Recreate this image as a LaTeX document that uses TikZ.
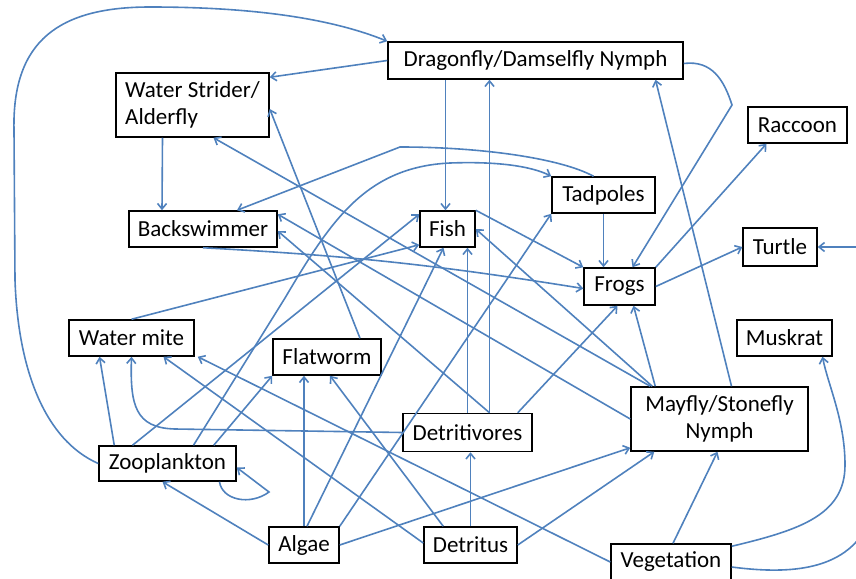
\documentclass[tikz,border=0pt]{standalone}
\usepackage{fontspec}
\setmainfont{Carlito}
\usetikzlibrary{arrows.meta}
\definecolor{linkblue}{RGB}{79,129,189}

\begin{document}
\begin{tikzpicture}[->,>={Straight Barb[length=5.5pt,width=9pt]},
    x=1pt,y=-1pt,
    box/.style={draw,line width=1.5pt,fill=white,inner sep=0pt,
      font=\fontsize{23}{27}\selectfont},
    link/.style={draw=linkblue,line width=1.6pt},
    every edge/.style={link}]

  \useasboundingbox (0,0) rectangle (856,578);

  \node[box,minimum width=295pt,minimum height=37pt] (drag) at (535.5,60.5) {Dragonfly/Damselfly Nymph};
  \node[box,minimum width=153pt,minimum height=64pt,align=left] (strider) at (192.5,105) {Water Strider/\\Alderfly};
  \node[box,minimum width=99pt,minimum height=36pt] (raccoon) at (797.5,125) {Raccoon};
  \node[box,minimum width=148pt,minimum height=36pt] (back) at (203,229) {Backswimmer};
  \node[box,minimum width=103pt,minimum height=36pt] (tad) at (603.5,195) {Tadpoles};
  \node[box,minimum width=55pt,minimum height=36pt] (fish) at (447.5,229) {Fish};
  \node[box,minimum width=74pt,minimum height=38pt] (turtle) at (780,247) {Turtle};
  \node[box,minimum width=71pt,minimum height=37pt] (frogs) at (619.5,286.5) {Frogs};
  \node[box,minimum width=125pt,minimum height=36pt] (mite) at (131.5,338) {Water mite};
  \node[box,minimum width=108pt,minimum height=36pt] (flat) at (327,357) {Flatworm};
  \node[box,minimum width=95pt,minimum height=36pt] (musk) at (784.5,338) {Muskrat};
  \node[box,minimum width=177pt,minimum height=64pt,align=center] (may) at (719.5,419) {Mayfly/Stonefly\\Nymph};
  \node[box,minimum width=129pt,minimum height=38pt] (detv) at (467.5,432.5) {Detritivores};
  \node[box,minimum width=137pt,minimum height=35pt] (zoo) at (167.5,463.5) {Zooplankton};
  \node[box,minimum width=70pt,minimum height=36pt] (algae) at (304,545) {Algae};
  \node[box,minimum width=93pt,minimum height=36pt] (detritus) at (470.5,545) {Detritus};
  \node[box,minimum width=120pt,minimum height=36pt] (veg) at (671,562) {Vegetation};

  % straight links
  \path
  ([xshift=-90pt]drag.south) edge ([xshift=-2pt]fish.north)
  (drag.west) edge ([yshift=-5pt]strider.north east)
  ([xshift=22pt]detv.north) edge ([xshift=-46pt]drag.south)
  ([xshift=12pt]may.north) edge ([xshift=120pt]drag.south)
  (frogs.north east) edge ([xshift=-31pt]raccoon.south)
  (frogs.east) edge (turtle.west)
  ([xshift=2pt]veg.north) edge ([xshift=-2pt]may.south)
  (detritus.east) edge ([xshift=24pt]may.south west)
  (algae.east) edge ([yshift=4pt]may.south west)
  (detritus.north) edge (detritus.north |- detv.south)
  ([xshift=25pt]may.north west) edge ([xshift=14pt]frogs.south)
  ([xshift=-15pt]detv.north east) edge ([xshift=-2pt]frogs.south)
  (tad.south) edge (tad.south |- frogs.north)
  (fish.north east) edge (frogs.north west)
  ([xshift=20pt]may.north west) edge ([xshift=21pt]strider.south)
  ([xshift=22pt]may.north west) edge (fish.east)
  (may.west) edge ([yshift=-4pt]back.north east)
  ([xshift=22pt]detv.north) edge ([yshift=-2pt]back.east)
  ([xshift=33pt]flat.north) edge ([yshift=-4pt]strider.east)
  ([xshift=-30pt]strider.south) edge ([xshift=-41pt]back.north)
  ([xshift=-35pt]zoo.north) edge ([yshift=-4pt]fish.north west)
  (mite.north) edge ([yshift=3pt]fish.south west)
  ([xshift=16pt]zoo.north west) edge ([xshift=-32pt]mite.south)
  ([yshift=2pt]detritus.west) edge ([xshift=32pt]mite.south)
  (veg.west) edge ([xshift=3pt]mite.south east)
  ([xshift=-23pt]zoo.north east) edge (flat.south west)
  (algae.north) edge (algae.north |- flat.south)
  ([xshift=3pt]algae.north) edge ([xshift=-4pt]fish.south)
  ([xshift=20pt]detritus.north west) edge ([xshift=3pt]flat.south)
  (algae.west) edge ([xshift=-5pt]zoo.south)
  (algae.north east) edge (tad.south west)
  (detv.north) edge (detv.north |- fish.south)
  (back.south) edge[bend left=3] ([yshift=-2pt]frogs.west);

  % curved links
  \draw[link] (zoo.west) .. controls (45,440) and (18,370) .. (15,280)
    -- (14,130) .. controls (12,40) and (60,7) .. (150,7)
    .. controls (260,7) and (335,20) .. (drag.north west);
  \draw[link] ([yshift=-3pt]drag.east) .. controls (712,60) and (724,80) .. (732,105)
    -- ([xshift=13pt]frogs.north);
  \draw[link] ([yshift=-5pt]veg.east) .. controls (785,574) and (840,572) .. (865,530)
    .. controls (905,430) and (905,247) .. (870,247) -- (turtle.east);
  \draw[link] ([yshift=-3pt]veg.north east) .. controls (800,530) and (845,515) .. (845,465)
    .. controls (845,420) and (828,385) .. ([xshift=38pt]musk.south);
  \draw[link] (detv.west) -- (175,429) .. controls (135,428) and (130,405) .. (mite.south);
  \draw[link] ([xshift=26pt]zoo.north) -- (285,298) .. controls (330,222) and (365,167) .. (450,163)
    .. controls (505,161) and (535,168) .. (tad.north west);
  \draw[link] ([xshift=-10pt]tad.north) .. controls (560,158) and (480,147) .. (400,147)
    -- ([xshift=34pt]back.north);
  \draw[link] ([xshift=52pt]zoo.south) .. controls (222,500) and (250,506) .. (269,492)
    -- ([yshift=-4pt]zoo.east);

\end{tikzpicture}
\end{document}
